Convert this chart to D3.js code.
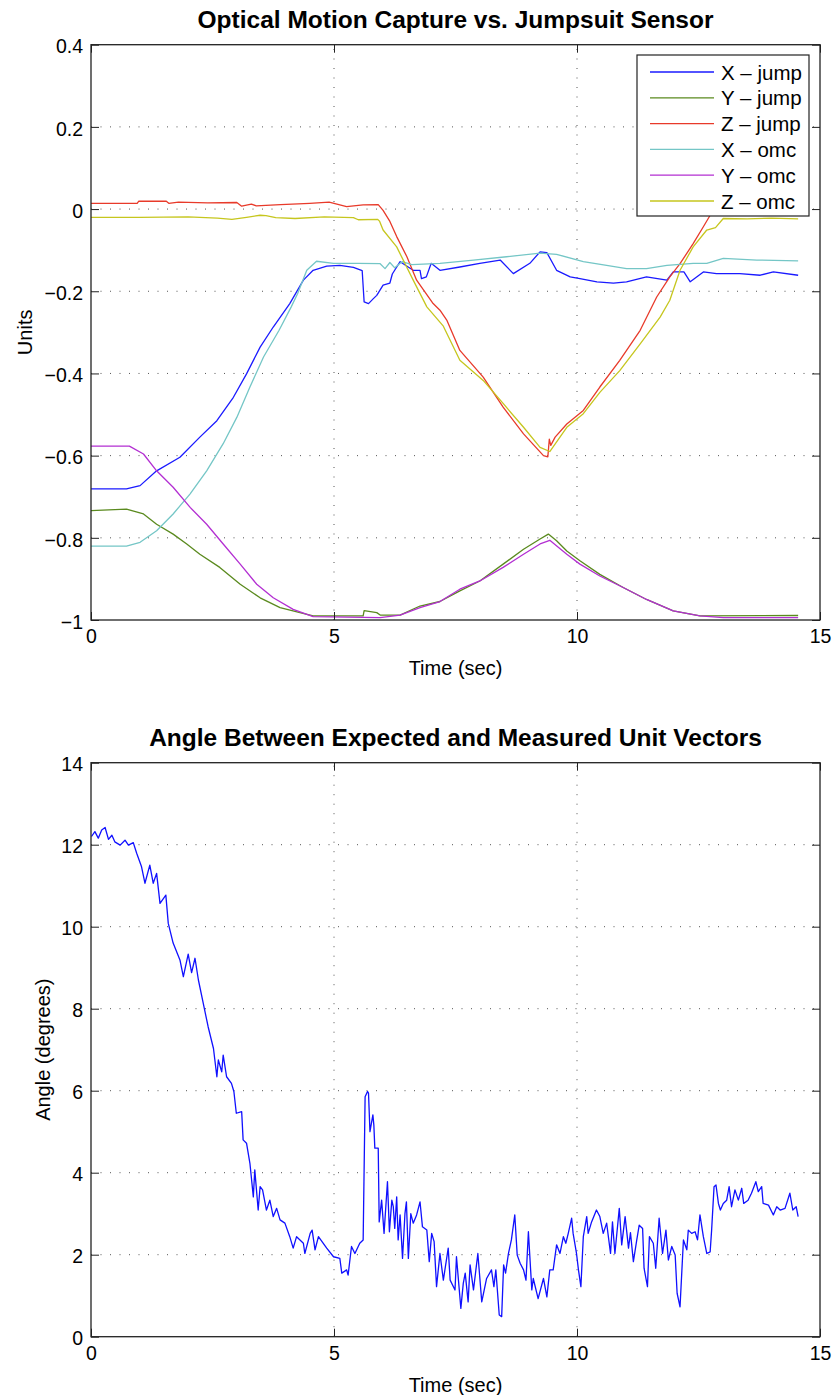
<!DOCTYPE html>
<html>
<head>
<meta charset="utf-8">
<script src="https://cdn.jsdelivr.net/npm/d3@7"></script>
<style>
  body { margin: 0; background: #fff; }
  svg text { font-family: "Liberation Sans", Arial, Helvetica, sans-serif; fill: #000; }
</style>
</head>
<body>
<svg id="fig" width="833" height="1395"></svg>
<script>
// ---- data (time in sec, value) ----
const xJump = [[0,-0.681],[0.73,-0.681],[1.01,-0.673],[1.35,-0.637],[1.83,-0.604],[2.24,-0.555],[2.59,-0.515],[2.93,-0.458],
  [3.20,-0.401],[3.48,-0.336],[3.75,-0.287],[4.09,-0.230],[4.37,-0.173],[4.57,-0.149],[4.85,-0.139],[5.12,-0.137],[5.40,-0.142],
  [5.58,-0.150],[5.62,-0.226],[5.71,-0.230],[5.81,-0.218],[5.88,-0.210],[6.01,-0.185],[6.15,-0.180],[6.20,-0.158],[6.36,-0.128],
  [6.63,-0.149],[6.77,-0.149],[6.80,-0.169],[6.90,-0.165],[7.00,-0.132],[7.18,-0.149],[7.59,-0.141],[8.00,-0.132],[8.42,-0.124],
  [8.69,-0.157],[9.03,-0.132],[9.24,-0.104],[9.38,-0.106],[9.58,-0.149],[9.86,-0.165],[10.06,-0.169],[10.41,-0.177],[10.75,-0.180],
  [11.02,-0.177],[11.43,-0.165],[11.85,-0.173],[11.98,-0.153],[12.20,-0.153],[12.33,-0.177],[12.60,-0.153],[12.87,-0.157],
  [13.35,-0.157],[13.77,-0.161],[14.04,-0.153],[14.55,-0.161]];

const yJump = [[0,-0.734],[0.73,-0.730],[1.08,-0.742],[1.35,-0.767],[1.69,-0.791],[1.97,-0.815],[2.24,-0.840],[2.65,-0.872],
  [3.07,-0.913],[3.48,-0.946],[3.89,-0.970],[4.30,-0.982],[4.57,-0.990],[5.60,-0.990],[5.62,-0.977],[5.88,-0.982],[5.95,-0.988],
  [6.36,-0.988],[6.77,-0.966],[7.18,-0.955],[7.59,-0.929],[8.00,-0.905],[8.48,-0.864],[8.90,-0.828],[9.24,-0.803],[9.41,-0.791],
  [9.58,-0.807],[9.79,-0.832],[10.06,-0.856],[10.47,-0.889],[10.95,-0.921],[11.43,-0.950],[11.98,-0.978],[12.53,-0.990],[14.55,-0.989]];

const zJump = [[0,0.014],[0.95,0.014],[0.98,0.019],[1.55,0.019],[1.60,0.014],[1.80,0.017],[2.40,0.015],[3.00,0.016],[3.10,0.007],
  [3.30,0.012],[3.40,0.008],[3.90,0.011],[4.50,0.014],[4.90,0.017],[5.26,0.006],[5.60,0.010],[5.91,0.011],[6.01,-0.003],[6.15,-0.030],
  [6.29,-0.067],[6.50,-0.116],[6.70,-0.173],[7.04,-0.230],[7.18,-0.246],[7.32,-0.270],[7.59,-0.344],[8.07,-0.409],[8.48,-0.482],
  [8.90,-0.547],[9.31,-0.600],[9.40,-0.603],[9.43,-0.560],[9.46,-0.575],[9.55,-0.555],[9.79,-0.523],[10.13,-0.490],[10.47,-0.433],
  [10.88,-0.368],[11.30,-0.295],[11.64,-0.214],[11.91,-0.165],[12.12,-0.133],[12.39,-0.084],[12.60,-0.043],[12.74,-0.015],
  [12.90,0.010],[13.10,0.014],[14.55,0.014]];

const xOmc = [[0,-0.820],[0.73,-0.820],[1.01,-0.811],[1.35,-0.783],[1.69,-0.742],[2.04,-0.693],[2.38,-0.637],[2.72,-0.571],
  [3.00,-0.507],[3.27,-0.433],[3.55,-0.360],[3.87,-0.295],[4.12,-0.238],[4.25,-0.206],[4.44,-0.149],[4.64,-0.127],[4.99,-0.132],
  [5.50,-0.132],[5.95,-0.133],[6.05,-0.145],[6.15,-0.130],[6.25,-0.143],[6.40,-0.128],[6.60,-0.135],[7.18,-0.132],[7.87,-0.124],
  [8.55,-0.116],[9.24,-0.107],[9.58,-0.110],[10.13,-0.128],[10.61,-0.137],[11.02,-0.145],[11.43,-0.145],[11.85,-0.137],
  [12.39,-0.132],[12.67,-0.132],[13.01,-0.120],[13.70,-0.124],[14.55,-0.126]];

const yOmc = [[0,-0.577],[0.79,-0.577],[1.08,-0.596],[1.35,-0.637],[1.69,-0.677],[2.04,-0.726],[2.38,-0.767],[2.72,-0.815],
  [3.07,-0.864],[3.41,-0.913],[3.75,-0.946],[4.16,-0.974],[4.57,-0.992],[5.95,-0.994],[6.36,-0.988],[6.77,-0.970],[7.18,-0.955],
  [7.59,-0.925],[8.00,-0.905],[8.48,-0.872],[8.90,-0.840],[9.24,-0.815],[9.44,-0.806],[9.79,-0.840],[10.06,-0.864],[10.47,-0.893],
  [10.95,-0.921],[11.43,-0.950],[11.98,-0.978],[12.53,-0.990],[13.01,-0.994],[14.55,-0.994]];

const zOmc = [[0,-0.020],[1.00,-0.020],[2.00,-0.019],[2.60,-0.022],[2.90,-0.025],[3.20,-0.020],[3.48,-0.015],[3.60,-0.016],
  [3.80,-0.021],[4.20,-0.023],[4.80,-0.019],[5.40,-0.021],[5.50,-0.026],[5.90,-0.025],[5.94,-0.030],[6.01,-0.051],[6.29,-0.092],
  [6.63,-0.173],[6.91,-0.238],[7.25,-0.285],[7.59,-0.368],[8.07,-0.417],[8.48,-0.473],[8.90,-0.531],[9.24,-0.580],[9.44,-0.590],
  [9.79,-0.531],[10.13,-0.498],[10.47,-0.446],[10.88,-0.393],[11.30,-0.328],[11.71,-0.263],[11.91,-0.222],[12.12,-0.149],
  [12.39,-0.092],[12.67,-0.051],[12.85,-0.045],[13.01,-0.023],[13.50,-0.024],[14.00,-0.022],[14.55,-0.024]];

const angleDeg = [[0.01,12.20],[0.08,12.32],[0.15,12.16],[0.22,12.36],[0.29,12.42],[0.36,12.13],[0.43,12.23],[0.49,12.07],
  [0.60,11.99],[0.70,12.11],[0.77,11.99],[0.87,12.05],[0.94,11.79],[1.04,11.46],[1.11,11.06],[1.21,11.50],[1.28,11.06],[1.35,11.30],
  [1.42,10.57],[1.54,10.77],[1.59,10.08],[1.69,9.60],[1.83,9.19],[1.90,8.78],[2.00,9.33],[2.07,8.88],[2.14,9.23],[2.21,8.70],
  [2.31,8.13],[2.41,7.56],[2.52,7.03],[2.59,6.34],[2.62,6.75],[2.69,6.46],[2.72,6.87],[2.79,6.34],[2.89,6.18],[2.94,5.98],
  [2.99,5.45],[3.10,5.49],[3.13,4.80],[3.20,4.72],[3.27,4.23],[3.34,3.41],[3.37,4.07],[3.44,3.09],[3.48,3.66],[3.53,3.58],
  [3.61,3.09],[3.68,3.33],[3.75,2.93],[3.82,3.13],[3.89,2.85],[3.99,2.77],[4.09,2.44],[4.16,2.16],[4.23,2.44],[4.37,2.28],
  [4.40,2.03],[4.51,2.52],[4.55,2.60],[4.61,2.12],[4.68,2.44],[4.85,2.16],[4.99,1.95],[5.12,1.91],[5.16,1.55],[5.26,1.63],
  [5.29,1.50],[5.36,2.20],[5.43,2.03],[5.53,2.28],[5.60,2.36],[5.64,5.85],[5.69,5.98],[5.71,5.94],[5.74,5.00],[5.80,5.41],
  [5.82,5.16],[5.84,4.60],[5.91,4.60],[5.93,2.80],[5.98,3.33],[6.03,2.52],[6.10,3.78],[6.14,2.56],[6.19,3.33],[6.22,3.17],
  [6.25,2.64],[6.29,3.41],[6.32,2.36],[6.36,2.97],[6.41,1.91],[6.46,3.00],[6.49,3.29],[6.53,1.91],[6.58,3.00],[6.63,2.77],
  [6.70,2.97],[6.77,3.29],[6.82,2.68],[6.91,2.60],[6.96,1.83],[7.01,2.52],[7.06,2.32],[7.11,1.22],[7.18,2.03],[7.25,1.38],
  [7.35,2.16],[7.39,1.38],[7.49,1.14],[7.52,1.95],[7.61,0.69],[7.66,1.30],[7.70,1.55],[7.76,0.85],[7.80,1.75],[7.87,1.14],
  [7.96,2.03],[8.04,0.85],[8.14,1.42],[8.24,1.63],[8.29,1.22],[8.33,1.63],[8.40,0.53],[8.45,0.49],[8.49,1.75],[8.53,1.55],
  [8.59,2.03],[8.65,2.36],[8.72,2.97],[8.77,1.99],[8.83,1.79],[8.90,1.63],[8.95,1.38],[9.00,2.56],[9.07,1.14],[9.10,1.42],
  [9.20,0.93],[9.31,1.42],[9.38,0.97],[9.44,1.63],[9.51,1.63],[9.58,2.24],[9.65,2.03],[9.72,2.44],[9.77,2.28],[9.82,2.52],
  [9.89,2.89],[9.92,2.52],[9.99,2.03],[10.03,1.63],[10.08,1.22],[10.13,2.44],[10.20,2.93],[10.23,2.52],[10.30,2.80],[10.40,3.09],
  [10.47,2.93],[10.54,2.52],[10.61,2.77],[10.69,2.03],[10.73,2.80],[10.78,2.03],[10.87,3.13],[10.92,2.24],[10.99,2.93],[11.06,2.16],
  [11.10,2.54],[11.16,1.83],[11.23,2.36],[11.28,2.72],[11.35,2.64],[11.38,1.67],[11.45,1.22],[11.49,2.44],[11.57,2.28],[11.62,1.67],
  [11.69,2.89],[11.76,2.03],[11.83,2.60],[11.88,1.87],[11.95,2.20],[12.02,1.99],[12.06,1.06],[12.12,0.73],[12.19,2.36],[12.26,2.12],
  [12.29,2.60],[12.36,2.52],[12.43,2.56],[12.48,2.36],[12.53,2.97],[12.60,2.44],[12.67,2.03],[12.74,2.07],[12.77,2.60],[12.82,3.66],
  [12.86,3.70],[12.91,3.25],[12.95,3.09],[13.01,3.25],[13.08,3.33],[13.13,3.66],[13.18,3.17],[13.25,3.58],[13.32,3.33],[13.39,3.62],
  [13.43,3.25],[13.52,3.33],[13.59,3.50],[13.68,3.78],[13.73,3.54],[13.80,3.66],[13.83,3.25],[13.94,3.21],[14.04,2.97],[14.11,3.17],
  [14.18,3.09],[14.28,3.13],[14.38,3.50],[14.44,3.09],[14.51,3.17],[14.55,2.93]];

const seriesNames = ["X \u2013 jump", "Y \u2013 jump", "Z \u2013 jump", "X \u2013 omc", "Y \u2013 omc", "Z \u2013 omc"];
const seriesColors = ["#1a1aff", "#5a8a1e", "#e83a2a", "#74c6c6", "#b32fd2", "#c6c61e"];
const xTicks = [0, 5, 10, 15];
const yTicksTop = [-1, -0.8, -0.6, -0.4, -0.2, 0, 0.2, 0.4];
const yTicksBottom = [0, 2, 4, 6, 8, 10, 12, 14];

// ---- layout ----
const left = 91, right = 820;
const svg = d3.select('#fig');

function fmt(d) {
  return Number.isInteger(d) ? d3.format('d')(d) : d3.format('.1f')(d);
}

function drawPanel(opt) {
  const x = d3.scaleLinear().domain([0, 15]).range([left, right]);
  const y = d3.scaleLinear().domain(opt.yDomain).range([opt.bottom, opt.top]);
  const g = svg.append('g');

  // dotted grid
  g.selectAll('.gx').data(xTicks.slice(1, -1)).enter().append('line')
    .attr('x1', d => x(d)).attr('x2', d => x(d))
    .attr('y1', opt.bottom).attr('y2', opt.top)
    .attr('stroke', '#555').attr('stroke-width', 1).attr('stroke-dasharray', '1,8.5');
  g.selectAll('.gy').data(opt.yTicks.slice(1, -1)).enter().append('line')
    .attr('x1', left).attr('x2', right)
    .attr('y1', d => y(d)).attr('y2', d => y(d))
    .attr('stroke', '#555').attr('stroke-width', 1).attr('stroke-dasharray', '1,8.5');

  // lines
  const line = d3.line().x(d => x(d[0])).y(d => y(d[1]));
  opt.series.forEach(function(s, i) {
    g.append('path').datum(s)
      .attr('d', line)
      .attr('fill', 'none')
      .attr('stroke', opt.colors[i])
      .attr('stroke-width', 1.3)
      .attr('stroke-linejoin', 'round');
  });

  // axes: ticks inward on all four sides
  const axL = g.append('g').attr('transform', 'translate(' + left + ',0)')
    .call(d3.axisLeft(y).tickValues(opt.yTicks).tickFormat(fmt).tickSizeInner(-8).tickSizeOuter(0).tickPadding(8));
  const axB = g.append('g').attr('transform', 'translate(0,' + opt.bottom + ')')
    .call(d3.axisBottom(x).tickValues(xTicks).tickFormat(d3.format('d')).tickSizeInner(-8).tickSizeOuter(0).tickPadding(9));
  g.append('g').attr('transform', 'translate(' + right + ',0)')
    .call(d3.axisRight(y).tickValues(opt.yTicks).tickFormat('').tickSizeInner(-8).tickSizeOuter(0));
  g.append('g').attr('transform', 'translate(0,' + opt.top + ')')
    .call(d3.axisTop(x).tickValues(xTicks).tickFormat('').tickSizeInner(-8).tickSizeOuter(0));
  g.selectAll('.domain').remove();
  g.selectAll('.tick line').attr('stroke', '#222').attr('stroke-width', 1);
  axL.selectAll('text').style('font-size', '19.5px').attr('dy', '0.42em');
  axB.selectAll('text').style('font-size', '19.5px');

  // frame
  g.append('rect')
    .attr('x', left).attr('y', opt.top)
    .attr('width', right - left).attr('height', opt.bottom - opt.top)
    .attr('fill', 'none').attr('stroke', '#222').attr('stroke-width', 1.3);

  // titles and labels
  g.append('text').attr('x', 455.5).attr('y', opt.top - 17)
    .attr('text-anchor', 'middle').style('font-size', '24.5px').style('font-weight', 'bold')
    .text(opt.title);
  g.append('text').attr('x', 455.5).attr('y', opt.bottom + 55)
    .attr('text-anchor', 'middle').style('font-size', '20px')
    .text('Time (sec)');
  g.append('text')
    .attr('transform', 'translate(' + opt.yLabelX + ',' + ((opt.top + opt.bottom) / 2) + ') rotate(-90)')
    .attr('text-anchor', 'middle').style('font-size', '20px')
    .text(opt.yLabel);

  return g;
}

// top panel
const gTop = drawPanel({
  top: 44.7, bottom: 620, yDomain: [-1, 0.4], yTicks: yTicksTop,
  series: [xJump, yJump, zJump, xOmc, yOmc, zOmc], colors: seriesColors,
  title: 'Optical Motion Capture vs. Jumpsuit Sensor', yLabel: 'Units', yLabelX: 32
});

// legend
const leg = gTop.append('g').attr('transform', 'translate(637,55)');
leg.append('rect').attr('width', 172).attr('height', 161)
  .attr('fill', '#fff').attr('stroke', '#222').attr('stroke-width', 1.2);
seriesNames.forEach(function(name, i) {
  const yy = 17 + i * 25.8;
  leg.append('line').attr('x1', 13).attr('x2', 77).attr('y1', yy).attr('y2', yy)
    .attr('stroke', seriesColors[i]).attr('stroke-width', 1.3);
  leg.append('text').attr('x', 84).attr('y', yy + 7.5)
    .style('font-size', '20.5px').text(name);
});

// bottom panel
drawPanel({
  top: 762.7, bottom: 1336.7, yDomain: [0, 14], yTicks: yTicksBottom,
  series: [angleDeg], colors: ['#1010ff'],
  title: 'Angle Between Expected and Measured Unit Vectors', yLabel: 'Angle (degrees)', yLabelX: 50
});
</script>
</body>
</html>
